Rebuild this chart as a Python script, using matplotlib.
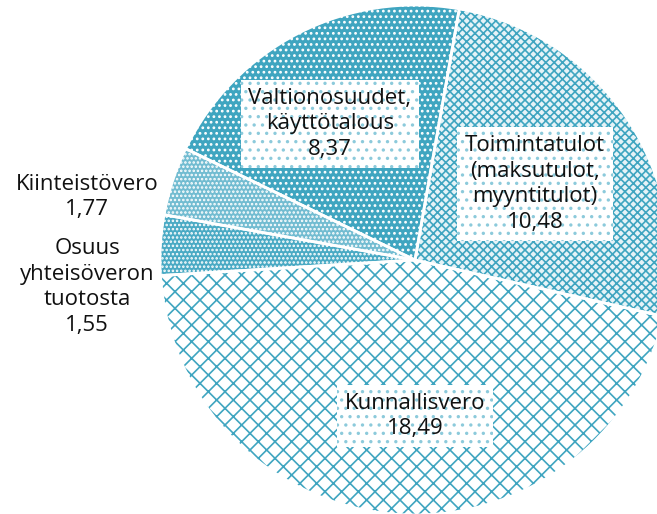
import matplotlib
matplotlib.use("Agg")
import matplotlib.pyplot as plt

plt.rcParams["font.family"] = ["Open Sans", "DejaVu Sans"]
plt.rcParams["hatch.linewidth"] = 1.2

# data (billion euros), clockwise from top
names = ["Toimintatulot\n(maksutulot,\nmyyntitulot)", "Kunnallisvero",
         "Osuus\nyhteisöveron\ntuotosta", "Kiinteistövero",
         "Valtionosuudet,\nkäyttötalous"]
values = [10.48, 18.49, 1.55, 1.77, 8.37]
value_labels = ["10,48", "18,49", "1,55", "1,77", "8,37"]

teal = "#3fa5c0"
faces = ["#e6f3f7", "white", "#4aaac4", "#72bcd1", teal]
hatches = ["xxxx", "xx", "....", "....", "..."]
hatch_cols = [teal, teal, "white", "white", "white"]

# label positions in pixel coords (x, y from top)
label_pos = [(535, 184), (415, 416), (87, 287), (87, 197), (330, 124)]
boxed = [True, True, False, False, True]

W, H = 657, 514
fig = plt.figure(figsize=(W / 100, H / 100), dpi=100)
ax = fig.add_axes([0, 0, 1, 1])

cx, cy, r = 415, H - 260, 255
common = dict(startangle=80, counterclock=False, center=(cx, cy), radius=r)
wedges, _ = ax.pie(values, colors=faces, wedgeprops=dict(linewidth=0), **common)
# hatch overlay in its own colour
hw, _ = ax.pie(values, colors=["none"] * len(values),
               wedgeprops=dict(linewidth=0), **common)
for w, h, c in zip(hw, hatches, hatch_cols):
    w.set_hatch(h)
    w.set_edgecolor(c)
    w.set_facecolor("none")
# white separators
ax.pie(values, colors=["none"] * len(values),
       wedgeprops=dict(linewidth=2, edgecolor="white", fill=False), **common)

for name, val, (px, py), b in zip(names, value_labels, label_pos, boxed):
    txt = name + "\n" + val
    kw = {}
    if b:
        kw["bbox"] = dict(boxstyle="square,pad=0.35", facecolor="white",
                          edgecolor="#8ccadb", linewidth=0, hatch="..")
    ax.text(px, H - py, txt, ha="center", va="center", fontsize=16,
            linespacing=1.3, color="#111111", zorder=5, **kw)

ax.set_xlim(0, W)
ax.set_ylim(0, H)
ax.set_aspect("auto")
ax.axis("off")

fig.savefig("out.png", dpi=100)
